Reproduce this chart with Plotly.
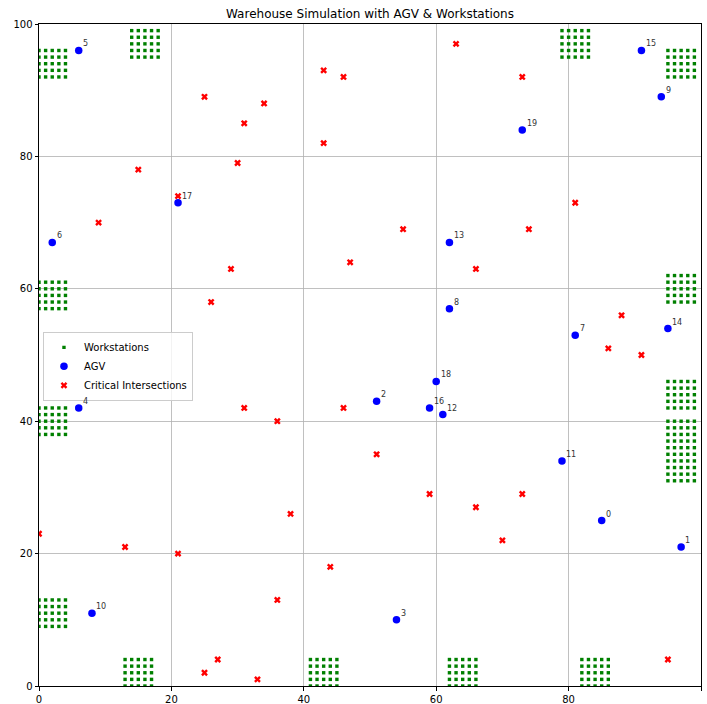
import plotly.graph_objects as go

# Workstation blocks: lower-left corner of each 5x5 grid of stations
ws_x0 = [0, 14, 0, 0, 0, 13, 41, 62, 82, 79, 95, 95, 95, 95, 95]
ws_y0 = [92, 95, 57, 38, 9, 0, 0, 0, 0, 95, 92, 58, 42, 36, 31]
ws_n = 5

# AGV positions (index = label)
agv_x = [85, 97, 51, 54, 6, 6, 2, 81, 62, 94, 8, 79, 61, 62, 95, 91, 59, 21, 60, 73]
agv_y = [25, 21, 43, 10, 42, 96, 67, 53, 57, 89, 11, 34, 41, 67, 54, 96, 42, 73, 46, 84]

# Critical intersections
ci_x = [25, 34, 31, 43, 46, 43, 15, 30, 21, 9, 29, 47, 26,
        63, 73, 81, 55, 74, 66, 88, 86, 91,
        31, 36, 46, 51, 0, 13, 21, 38, 44, 36, 27, 25, 33,
        59, 66, 73, 70, 95]
ci_y = [89, 88, 85, 93, 92, 82, 78, 79, 74, 70, 63, 64, 58,
        97, 92, 73, 69, 69, 63, 56, 51, 50,
        42, 40, 42, 35, 23, 21, 20, 26, 18, 13, 4, 2, 1,
        29, 27, 29, 22, 4]

ticks = [0, 20, 40, 60, 80, 100]

wx, wy = [], []
for x0, y0 in zip(ws_x0, ws_y0):
    for i in range(ws_n):
        for j in range(ws_n):
            wx.append(x0 + i)
            wy.append(y0 + j)

font_family = "DejaVu Sans"

fig = go.Figure()
fig.add_trace(go.Scatter(
    x=wx, y=wy, mode="markers", name="Workstations",
    marker=dict(symbol="square", size=3.4, color="green", line=dict(width=0)),
))
fig.add_trace(go.Scatter(
    x=agv_x, y=agv_y, mode="markers", name="AGV",
    marker=dict(symbol="circle", size=7.5, color="blue", line=dict(width=0)),
))
fig.add_trace(go.Scatter(
    x=ci_x, y=ci_y, mode="markers", name="Critical Intersections",
    marker=dict(symbol="x", size=6, color="red", line=dict(width=0)),
))

annotations = []
for i, (x, y) in enumerate(zip(agv_x, agv_y)):
    annotations.append(dict(
        x=x, y=y, xref="x", yref="y", text=str(i), showarrow=False,
        xanchor="left", yanchor="bottom", xshift=2.3, yshift=0,
        font=dict(size=8, color="#333333", family=font_family),
    ))

axis_common = dict(
    range=[0, 100], tickvals=ticks, ticktext=[str(t) for t in ticks],
    showgrid=True, gridcolor="#b0b0b0", gridwidth=0.8,
    showline=True, linecolor="black", linewidth=1, mirror=True,
    ticks="outside", ticklen=3.5, tickcolor="black", tickwidth=1,
    zeroline=False, tickfont=dict(size=10, color="black", family=font_family),
    fixedrange=True, automargin=False,
)

fig.update_layout(
    width=707, height=704,
    margin=dict(l=39, r=6, t=24, b=18),
    paper_bgcolor="white", plot_bgcolor="white",
    title=dict(text="Warehouse Simulation with AGV & Workstations",
               x=0.5, xref="paper", xanchor="center",
               y=1 - 14 / 704, yref="container", yanchor="middle",
               font=dict(size=12, color="black", family=font_family),
               automargin=False),
    xaxis=axis_common,
    yaxis=axis_common,
    showlegend=True,
    legend=dict(x=0.006, y=0.535, xanchor="left", yanchor="top",
                bgcolor="rgba(255,255,255,0.8)", bordercolor="#cccccc",
                borderwidth=1, font=dict(size=10, color="black", family=font_family),
                tracegroupgap=0),
    annotations=annotations,
    font=dict(family=font_family),
    hovermode=False,
)

fig.write_html(
    "out.html",
    config={"displayModeBar": False, "staticPlot": True},
    post_script="document.body.style.margin='0';document.body.style.overflow='hidden';",
)
